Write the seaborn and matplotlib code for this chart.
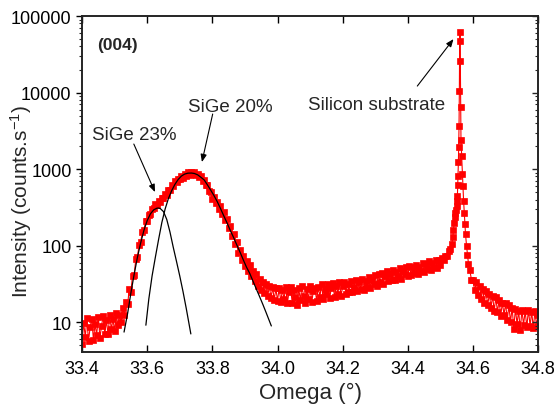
import numpy as np
import pandas as pd
import matplotlib
matplotlib.use("Agg")
import matplotlib.pyplot as plt
import seaborn as sns
from matplotlib.ticker import FixedLocator, FuncFormatter, LogLocator, NullFormatter

# ---------------- data ----------------
# main scan 33.400 .. 34.535 deg, step 0.005 deg
omega_low = np.round(np.arange(33.400, 34.5351, 0.005), 3)
intensity_low = [
    # 33.400 - 33.520
    5.2, 9.8, 6.4, 11.2, 5.6, 8.7, 10.9, 5.9, 9.4, 6.8, 11.8, 6.2, 9.0, 12.0, 7.0,
    10.5, 6.9, 12.4, 8.0, 11.0, 7.6, 13.0, 9.1, 12.2, 10.0,
    # 33.525 - 33.600
    15.5, 12.2, 18.5, 17.0, 27.0, 24.5, 40.5, 41.0, 66.0, 70.0, 102, 110, 152, 160, 208, 212,
    # 33.605 - 33.700
    252, 262, 298, 312, 345, 340, 380, 372, 420, 415, 470, 462, 530, 528, 610, 600, 690, 672, 750, 735,
    # 33.705 - 33.800
    820, 768, 870, 812, 905, 845, 915, 852, 905, 830, 870, 780, 800, 700, 720, 610, 620, 510, 505, 410,
    # 33.805 - 33.900
    425, 355, 375, 305, 325, 262, 278, 215, 225, 170, 178, 134, 140, 104, 110, 80, 88, 64, 72, 54,
    # 33.905 - 34.000
    62, 47, 56, 40, 47, 34, 42, 30, 37, 26, 33, 24, 31, 22, 29.5, 20.5, 28.5, 19.5, 27.5, 19,
    # 34.005 - 34.200
    28, 18.5, 26.5, 20, 29, 17.5, 24.5, 28.5, 18, 26, 21, 16.8, 27.5, 19.5, 29.5, 22, 17.8, 27, 20, 30,
    18.2, 25.5, 28, 19, 29, 21.5, 31, 19.8, 27, 23, 31.5, 20.5, 28, 32, 21, 30, 23.5, 33, 22, 29.5,
    # 34.205 - 34.400
    33, 23, 31, 25, 34, 24.5, 29, 35.5, 25.5, 33, 27, 37, 26.5, 34.5, 29, 39, 28, 36, 31, 41,
    30, 42, 33, 44, 31.5, 40, 46, 34, 43, 36, 48, 35, 45, 40, 51, 37, 47, 42, 53, 40,
    # 34.405 - 34.535
    54, 41, 52, 44, 56, 43, 53, 47, 59, 45, 57, 49, 62, 48, 60, 52, 65, 51, 64, 56,
    68, 64, 74, 72, 84, 90, 106,
]

# silicon substrate peak, finer steps
omega_peak = [34.538, 34.540, 34.542, 34.544, 34.546, 34.548, 34.550, 34.551, 34.552, 34.553,
              34.554, 34.555, 34.556, 34.557, 34.558, 34.559, 34.560, 34.561, 34.562, 34.563,
              34.565, 34.567, 34.569, 34.571, 34.573, 34.575, 34.577, 34.580, 34.583, 34.586]
intensity_peak = [128, 160, 200, 235, 265, 290, 330, 380, 440, 610,
                  820, 1220, 1920, 3700, 10500, 47500, 61200, 26000, 6500, 2400,
                  1490, 860, 600, 385, 270, 190, 140, 100, 75, 58]

# tail 34.590 .. 34.800 deg, step 0.005 deg
omega_high = np.round(np.arange(34.590, 34.8001, 0.005), 3)
intensity_high = [48, 36, 35, 26, 33, 22.5, 30, 20, 27, 18, 25.5, 16.5, 23.5, 15.5, 22,
                  14, 21, 13.5, 19.5, 12, 18, 12.5, 17.5, 10.5, 16.5, 10, 15.5, 8.2, 15, 9.5,
                  14, 7.8, 14.5, 9.2, 14, 8.6, 14.5, 9, 13.5, 8.4, 13.8, 9, 12.5]

# fitted SiGe peaks
omega_fit23 = [33.529, 33.540, 33.550, 33.560, 33.570, 33.580, 33.590, 33.600, 33.610, 33.620,
               33.630, 33.635, 33.640, 33.650, 33.660, 33.670, 33.680, 33.690, 33.700, 33.710,
               33.720, 33.734]
intensity_fit23 = [7.4, 13, 24, 42, 70, 108, 158, 212, 260, 293,
                   308, 309, 305, 278, 220, 150, 95, 62, 40, 25,
                   15, 7]

omega_fit20 = [33.596, 33.605, 33.615, 33.625, 33.635, 33.645, 33.655, 33.665, 33.675, 33.685,
               33.695, 33.705, 33.715, 33.725, 33.736, 33.745, 33.755, 33.765, 33.775, 33.785,
               33.795, 33.805, 33.815, 33.825, 33.835, 33.845, 33.855, 33.865, 33.875, 33.885,
               33.895, 33.905, 33.915, 33.925, 33.935, 33.945, 33.955, 33.965, 33.981]
intensity_fit20 = [9.1, 20, 40, 70, 120, 200, 300, 410, 520, 630,
                   730, 810, 860, 884, 887, 875, 840, 780, 720, 620,
                   530, 450, 375, 305, 245, 198, 158, 128, 102, 82,
                   65, 52, 43, 34, 27, 21.5, 17, 13.3, 8.9]

x_ticks = [33.4, 33.6, 33.8, 34.0, 34.2, 34.4, 34.6, 34.8]
x_tick_labels = ["33.4", "33.6", "33.8", "34.0", "34.2", "34.4", "34.6", "34.8"]
y_ticks = [10, 100, 1000, 10000, 100000]
y_tick_labels = ["10", "100", "1000", "10000", "100000"]

scan = pd.DataFrame({
    "omega": np.concatenate([omega_low, omega_peak, omega_high]),
    "intensity": np.concatenate([intensity_low, intensity_peak, intensity_high]),
})
fit23 = pd.DataFrame({"omega": omega_fit23, "intensity": intensity_fit23})
fit20 = pd.DataFrame({"omega": omega_fit20, "intensity": intensity_fit20})

# ---------------- plotting ----------------
sns.set_style("ticks")
plt.rcParams["font.family"] = ["Liberation Sans", "DejaVu Sans"]
plt.rcParams["mathtext.default"] = "regular"

fig = plt.figure(figsize=(5.56, 4.06), dpi=100)
ax = fig.add_axes([0.1475, 0.1305, 0.8205, 0.8275])

sns.lineplot(data=scan, x="omega", y="intensity", ax=ax, color="#ff0000", lw=0.8,
             marker="s", markersize=5, markerfacecolor="#ff0000", markeredgecolor="#ff0000",
             markeredgewidth=0.5, sort=False, estimator=None, zorder=2)
sns.lineplot(data=fit23, x="omega", y="intensity", ax=ax, color="black", lw=0.9,
             sort=False, estimator=None, zorder=3)
sns.lineplot(data=fit20, x="omega", y="intensity", ax=ax, color="black", lw=0.9,
             sort=False, estimator=None, zorder=3)

ax.set_yscale("log")
ax.set_xlim(33.4, 34.8)
ax.set_ylim(4.06, 100000)

ax.xaxis.set_major_locator(FixedLocator(x_ticks))
ax.set_xticklabels(x_tick_labels)
ax.yaxis.set_major_locator(FixedLocator(y_ticks))
ax.yaxis.set_major_formatter(FuncFormatter(
    lambda v, p: y_tick_labels[y_ticks.index(int(round(v)))] if int(round(v)) in y_ticks else ""))
ax.yaxis.set_minor_locator(LogLocator(base=10, subs=np.arange(2, 10)))
ax.yaxis.set_minor_formatter(NullFormatter())

for s in ax.spines.values():
    s.set_visible(True)
    s.set_linewidth(1.1)
    s.set_color("black")

ax.tick_params(axis="x", which="major", direction="in", top=True, bottom=True,
               length=5, width=1.0, labelsize=13, pad=6, colors="black")
ax.tick_params(axis="y", which="major", direction="out", left=True, right=False,
               length=4.5, width=1.0, labelsize=13, pad=3, colors="black")
ax.tick_params(axis="y", which="minor", direction="out", left=True, right=False,
               length=2.5, width=0.8)

# right axis with inward ticks
axr = ax.twinx()
axr.set_yscale("log")
axr.set_ylim(ax.get_ylim())
axr.yaxis.set_major_locator(FixedLocator(y_ticks))
axr.yaxis.set_minor_locator(LogLocator(base=10, subs=np.arange(2, 10)))
axr.yaxis.set_major_formatter(NullFormatter())
axr.yaxis.set_minor_formatter(NullFormatter())
axr.tick_params(axis="y", which="major", direction="in", length=4.5, width=1.0)
axr.tick_params(axis="y", which="minor", direction="in", length=2.5, width=0.8)
for s in axr.spines.values():
    s.set_linewidth(1.1)

ax.set_xlabel("Omega (°)", fontsize=16, labelpad=3)
ax.set_ylabel("Intensity (counts.s$^{-1}$)", fontsize=15)
ax.yaxis.set_label_coords(-0.106, 0.45)

ax.text(33.446, 43000, "(004)", fontsize=12.5, fontweight="bold", ha="left", va="center")
ax.text(33.431, 2870, "SiGe 23%", fontsize=13.5, ha="left", va="center")
ax.text(33.725, 6670, "SiGe 20%", fontsize=13.5, ha="left", va="center")
ax.text(34.092, 7080, "Silicon substrate", fontsize=13.5, ha="left", va="center")

arrow = dict(arrowstyle="-|>,head_length=0.45,head_width=0.18", color="black", lw=0.8,
             shrinkA=0, shrinkB=0)
ax.annotate("", xy=(33.624, 500), xytext=(33.559, 2123), arrowprops=arrow)
ax.annotate("", xy=(33.768, 1234), xytext=(33.801, 5240), arrowprops=arrow)
ax.annotate("", xy=(34.540, 50000), xytext=(34.429, 12160), arrowprops=arrow)

fig.savefig("out.png", dpi=100)
